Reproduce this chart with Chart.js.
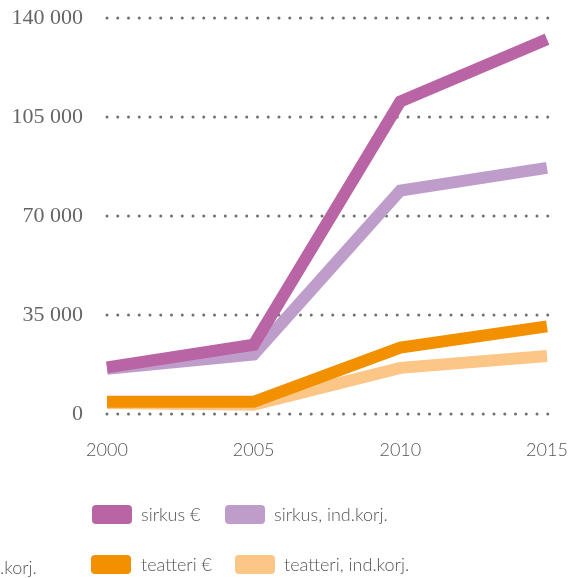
<!DOCTYPE html>
<html><head><meta charset="utf-8">
<script src="https://cdn.jsdelivr.net/npm/chart.js@4"></script>
<style>
html,body{margin:0;padding:0;background:#fff;overflow:hidden}
#wrap{position:relative;width:577px;height:578px}
canvas{position:absolute;left:0;top:0}
.lg{position:absolute;font-family:Lato,"Open Sans",sans-serif;font-weight:300;font-size:18px;color:#555;white-space:nowrap;line-height:20px}
.bx{position:absolute;width:40px;height:19px;border-radius:4px}
</style></head><body>
<div id="wrap"><canvas id="c" width="577" height="578"></canvas>
<div class="bx" style="left:92px;top:505px;background:#b964a4"></div><div class="lg" style="left:141px;top:504px">sirkus €</div>
<div class="bx" style="left:225px;top:505px;background:#bf9dca"></div><div class="lg" style="left:274px;top:504px">sirkus, ind.korj.</div>
<div class="lg" style="left:0px;top:557px">.korj.</div>
<div class="bx" style="left:91px;top:555px;background:#f39000"></div><div class="lg" style="left:141px;top:554px">teatteri €</div>
<div class="bx" style="left:235px;top:555px;background:#fcc687"></div><div class="lg" style="left:284px;top:554px">teatteri, ind.korj.</div>
</div>
<script>
const years = ["2000","2005","2010","2015"];
const sirkusEur = [16500, 24500, 110500, 132500];
const sirkusInd = [16000, 21000, 79000, 87000];
const teatteriEur = [4300, 4300, 23500, 31000];
const teatteriInd = [3900, 3300, 16300, 20500];
const yTicks = [0, 35000, 70000, 105000, 140000];

const dotGrid = {
  id:'dotGrid',
  beforeDatasetsDraw(chart){
    const {ctx, chartArea, scales:{y}} = chart;
    ctx.save();
    ctx.fillStyle = '#6f6f6f';
    yTicks.forEach(v=>{
      const py = y.getPixelForValue(v);
      for(let x = chartArea.left; x <= chartArea.right + 1; x += 10.75){
        ctx.beginPath(); ctx.arc(x, py, 1.5, 0, Math.PI*2); ctx.fill();
      }
    });
    ctx.restore();
  }
};

const mk = (data, color) => ({data, borderColor: color, backgroundColor: color, borderWidth: 12, pointRadius: 0, tension: 0, borderCapStyle: 'butt', borderJoinStyle: 'miter', clip: false});

new Chart(document.getElementById('c'), {
  type: 'line',
  data: {
    labels: years,
    datasets: [
      Object.assign(mk(sirkusEur, '#b964a4'), {label: 'sirkus €'}),
      Object.assign(mk(sirkusInd, '#bf9dca'), {label: 'sirkus, ind.korj.'}),
      Object.assign(mk(teatteriEur, '#f39000'), {label: 'teatteri €'}),
      Object.assign(mk(teatteriInd, '#fcc687'), {label: 'teatteri, ind.korj.'})
    ]
  },
  options: {
    responsive: false, animation: false,
    layout: {padding: {left: 0, right: 30, top: 18, bottom: 0}},
    plugins: {legend: {display: false}, tooltip: {enabled: false}},
    scales: {
      x: {
        offset: false,
        grid: {display: false, drawTicks: true, tickLength: 25},
        border: {display: false},
        ticks: {padding: 0, color: '#555', font: {family: 'Lato', size: 18, weight: 300}, maxRotation: 0},
        afterFit: s => { s.height = 164; }
      },
      y: {
        min: 0, max: 140000,
        afterBuildTicks: s => { s.ticks = yTicks.map(v => ({value: v})); },
        grid: {display: false, drawTicks: true, tickLength: 24},
        border: {display: false},
        ticks: {padding: 0, color: '#666', font: {family: 'Liberation Serif', size: 22},
          callback: v => v === 0 ? '0' : String(v).replace(/\B(?=(\d{3})+(?!\d))/g, ' ')},
        afterFit: s => { s.width = 107; }
      }
    }
  },
  plugins: [dotGrid]
});
</script>
</body></html>
